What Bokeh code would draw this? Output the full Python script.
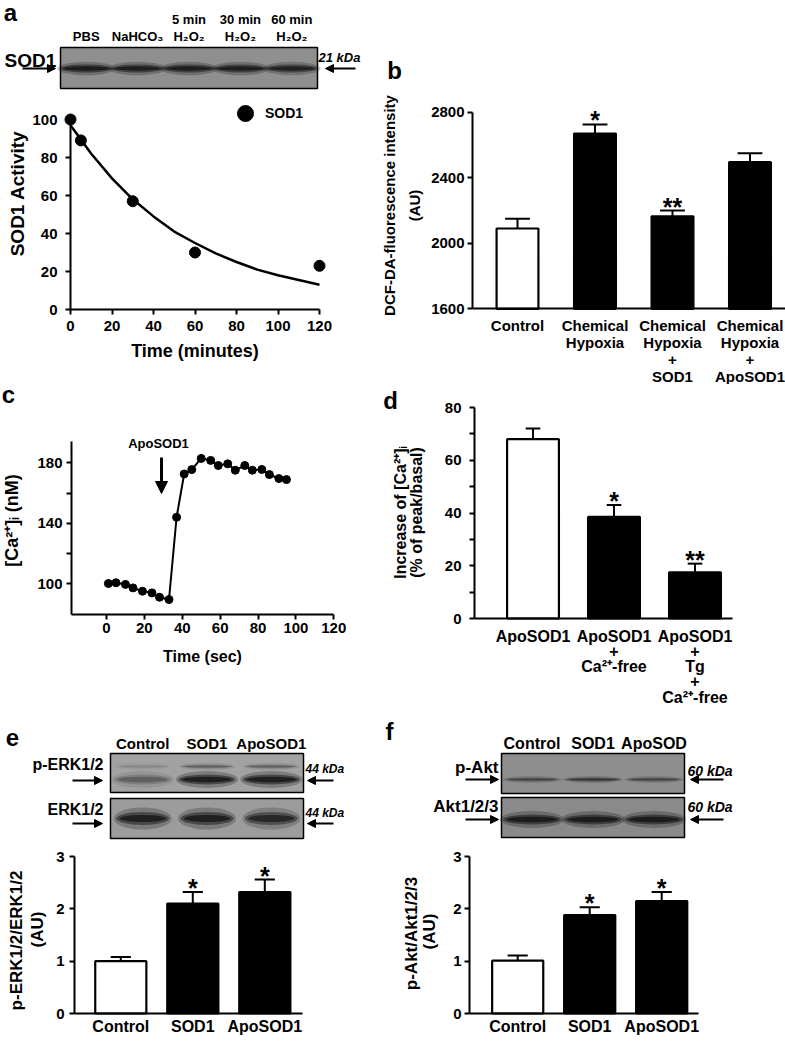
import numpy as np
from bokeh.plotting import figure
from bokeh.layouts import row, column
from bokeh.models import (Range1d, FixedTicker, Label, Arrow, NormalHead,
                          Legend, LegendItem)
from bokeh.core.properties import value
from bokeh.embed import file_html
from bokeh.resources import INLINE

FONT = "Liberation Sans"

# ---------------- data ----------------
# (a) blot lanes + SOD1 activity vs time
a_lanes_top = ["", "", "5 min", "30 min", "60 min"]
a_lanes_bottom = ["PBS", "NaHCO₃", "H₂O₂", "H₂O₂", "H₂O₂"]
a_band = [1.0, 0.95, 0.95, 0.95, 0.9]
a_time = [0, 5, 30, 60, 120]
a_activity = [100, 89, 57, 30, 23]
a_fit_time = [0, 10, 20, 30, 40, 50, 60, 70, 80, 90, 100, 110, 120]
a_fit_activity = [97, 82, 69, 58, 49, 41, 35, 29.5, 25, 21, 18, 15.5, 13]
a_xticks = [0, 20, 40, 60, 80, 100, 120]
a_yticks = [0, 20, 40, 60, 80, 100]

# (b) DCF-DA fluorescence
b_labels = ["Control", "Chemical\nHypoxia", "Chemical\nHypoxia\n+\nSOD1",
            "Chemical\nHypoxia\n+\nApoSOD1"]
b_mean = [2090, 2670, 2165, 2495]
b_sem = [60, 55, 35, 55]
b_sig = ["", "*", "**", ""]
b_yticks = [1600, 2000, 2400, 2800]

# (c) [Ca2+]i trace
c_time = [1, 5, 10, 14, 19, 24, 28, 33, 37, 41, 45, 50, 55, 59, 64, 68, 73,
          77, 82, 86, 91, 95]
c_ca = [100.2, 100.7, 99.6, 97.3, 95.1, 94.0, 91.1, 89.6, 144.0, 172.6, 175.5,
        182.9, 181.6, 178.2, 179.3, 175.1, 178.2, 175.1, 175.6, 172.2, 169.6,
        168.9]
c_xticks = [0, 20, 40, 60, 80, 100, 120]
c_yticks = [100, 140, 180]
c_yminor = [120, 160]

# (d) increase of [Ca2+]i
d_labels = ["ApoSOD1", "ApoSOD1\n+\nCa²⁺-free", "ApoSOD1\n+\nTg\n+\nCa²⁺-free"]
d_mean = [68, 38.5, 17.5]
d_sem = [4, 4.5, 3.3]
d_sig = ["", "*", "**"]
d_yticks = [0, 20, 40, 60, 80]
d_yminor = [10, 30, 50, 70]

# (e) p-ERK1/2
e_lanes = ["Control", "SOD1", "ApoSOD1"]
e_perk_band = [0.35, 1.0, 1.0]
e_erk_band = [0.95, 0.95, 0.85]
e_mean = [1.0, 2.1, 2.32]
e_sem = [0.08, 0.22, 0.24]
e_sig = ["", "*", "*"]

# (f) p-Akt
f_lanes = ["Control", "SOD1", "ApoSOD"]
f_labels = ["Control", "SOD1", "ApoSOD1"]
f_pakt_band = [0.5, 0.65, 0.5]
f_akt_band = [1.0, 1.0, 1.0]
f_mean = [1.01, 1.88, 2.15]
f_sem = [0.1, 0.15, 0.17]
f_sig = ["", "*", "*"]
ef_yticks = [0, 1, 2, 3]

SPLIT = 378  # x where the right-hand column of panels begins


# ---------------- helpers ----------------
class Panel:
    """A figure whose frame fills its box; xmap/ymap tie data values to pixels."""

    def __init__(self, box, xmap, ymap, axes=True):
        self.x0, self.y0, self.x1, self.y1 = box
        self.xmap, self.ymap = xmap, ymap
        kw = {}
        if not axes:
            kw = dict(x_axis_type=None, y_axis_type=None)
        self.p = figure(width=int(self.x1 - self.x0), height=int(self.y1 - self.y0),
                        x_range=Range1d(self.X(self.x0), self.X(self.x1)),
                        y_range=Range1d(self.Y(self.y1), self.Y(self.y0)),
                        output_backend="svg", toolbar_location=None, tools="",
                        min_border=0, min_border_left=0, min_border_right=0,
                        min_border_top=0, min_border_bottom=0,
                        outline_line_color=None, background_fill_color="white",
                        border_fill_color="white", **kw)
        if axes:
            self.p.xgrid.visible = False
            self.p.ygrid.visible = False

    @staticmethod
    def _lin(m, v):
        d1, p1, d2, p2 = m
        return d1 + (v - p1) * (d2 - d1) / (p2 - p1)

    def X(self, px):
        return self._lin(self.xmap, px)

    def Y(self, py):
        return self._lin(self.ymap, py)

    def label(self, px, py, text, size, angle=0, align="center", style="bold",
              baseline="middle"):
        self.p.add_layout(Label(x=self.X(px), y=self.Y(py), text=text,
                                angle=angle, angle_units="deg",
                                text_align=align, text_baseline=baseline,
                                text_font=FONT, text_font_style=style,
                                text_font_size=f"{size}px", text_color="black"))

    def arrow(self, px0, py0, px1, py1, lw=2, head=8):
        self.p.add_layout(Arrow(end=NormalHead(size=head, fill_color="black",
                                               line_color="black", line_width=1),
                                x_start=self.X(px0), y_start=self.Y(py0),
                                x_end=self.X(px1), y_end=self.Y(py1),
                                line_width=lw, line_color="black"))


def style_axis(ax, size, tick_out=5, standoff=3):
    ax.axis_line_width = 2
    ax.axis_line_color = "black"
    ax.major_tick_line_width = 2
    ax.minor_tick_line_width = 2
    ax.major_tick_in = 0
    ax.major_tick_out = tick_out
    ax.minor_tick_in = 0
    ax.minor_tick_out = tick_out
    ax.major_label_standoff = standoff
    ax.major_label_text_font = FONT
    ax.major_label_text_font_style = "bold"
    ax.major_label_text_font_size = f"{size}px"
    ax.major_label_text_color = "black"
    ax.axis_label_text_font = FONT
    ax.axis_label_text_font_style = "bold"
    ax.axis_label_text_color = "black"


def bar_panel(P, labels, mean, sem, sig, base, width, cap, xpx_axis, xpx_end,
              yticks, yminor, tick_standoff, cat_size, cat_lh, cat_standoff, ytop):
    p = P.p
    idx = list(range(len(mean)))
    colors = ["white" if i == 0 else "black" for i in idx]
    tops = [m + s for m, s in zip(mean, sem)]
    p.segment(x0=idx, y0=mean, x1=idx, y1=tops, line_width=2, line_color="black")
    p.segment(x0=[i - cap for i in idx], y0=tops, x1=[i + cap for i in idx],
              y1=tops, line_width=2, line_color="black")
    p.vbar(x=idx, top=mean, bottom=base, width=width, fill_color=colors,
           line_color="black", line_width=2.2)
    p.text(x=idx, y=tops, text=sig, text_align="center", text_baseline="middle",
           y_offset=-4, text_font=value(FONT), text_font_style="bold",
           text_font_size="25px", text_color="black")
    ya = p.yaxis[0]
    xa = p.xaxis[0]
    ya.fixed_location = P.X(xpx_axis)
    ya.bounds = (base, ytop)
    ya.ticker = FixedTicker(ticks=yticks, minor_ticks=yminor)
    style_axis(ya, 15, 5, tick_standoff)
    xa.fixed_location = base
    xa.bounds = (P.X(xpx_axis), P.X(xpx_end))
    xa.ticker = FixedTicker(ticks=idx, minor_ticks=[])
    xa.major_label_overrides = {i: lab for i, lab in zip(idx, labels)}
    style_axis(xa, cat_size, 0, cat_standoff)
    xa.major_label_text_line_height = cat_lh


def bands(P, xs, ypx, strengths, w=0.9, h=8, color="#111111"):
    layers = [(1.1, 1.7, 0.25), (1.0, 1.0, 0.5), (0.88, 0.55, 0.75)]
    for sw, sh, a in layers:
        P.p.ellipse(x=xs, y=[P.Y(ypx)] * len(xs), width=w * sw,
                    height=abs(P.Y(ypx + h * sh) - P.Y(ypx)),
                    fill_color=color, fill_alpha=[min(1.0, s * a) for s in strengths],
                    line_color=None)


def blot_box(P, n, ypx0, ypx1, fill):
    P.p.quad(left=[-0.5], right=[n - 0.5], top=[P.Y(ypx0)], bottom=[P.Y(ypx1)],
             fill_color=fill, line_color="black", line_width=1.5)


# ---------------- (a) blot ----------------
AB = Panel((0, 0, SPLIT, 95), (-0.5, 60, 4.5, 317), (0, 0, 1, 1), axes=False)
n_a = len(a_lanes_bottom)
AB.label(10, 12, "a", 24)
AB.p.text(x=list(range(n_a)), y=[AB.Y(19)] * n_a, text=a_lanes_top,
          text_align="center", text_baseline="middle", text_font=value(FONT),
          text_font_style="bold", text_font_size="13px", text_color="black")
AB.p.text(x=list(range(n_a)), y=[AB.Y(36)] * n_a, text=a_lanes_bottom,
          text_align="center", text_baseline="middle", text_font=value(FONT),
          text_font_style="bold", text_font_size="13px", text_color="black")
blot_box(AB, n_a, 47, 88, "#8f8f8f")
bands(AB, list(range(n_a)), 68, a_band, w=1.02, h=8)
AB.label(4, 60, "SOD1", 19, align="left")
AB.arrow(22, 68, 55, 68)
AB.label(318, 57, "21 kDa", 13, align="left", style="bold italic")
AB.arrow(355, 68, 325, 68)

# ---------------- (a) plot ----------------
AP = Panel((0, 95, SPLIT, 370), (0, 70, 120, 319), (0, 309, 100, 119))
p = AP.p
p.line(a_fit_time, a_fit_activity, line_width=2.5, line_color="black")
ra = p.scatter(a_time, a_activity, size=11, color="black")
xa, ya = p.xaxis[0], p.yaxis[0]
xa.fixed_location = 0
xa.bounds = (0, 120)
xa.ticker = FixedTicker(ticks=a_xticks)
style_axis(xa, 15, 5, 6)
xa.axis_label = "Time (minutes)"
xa.axis_label_text_font_size = "18px"
xa.axis_label_standoff = 7
ya.fixed_location = 0
ya.bounds = (0, 100)
ya.ticker = FixedTicker(ticks=a_yticks)
style_axis(ya, 15, 5, 8)
AP.label(17, 193, "SOD1 Activity", 19, angle=90)
leg = Legend(items=[LegendItem(label="SOD1", renderers=[ra])], location=(225, 237),
             glyph_width=40, glyph_height=40, label_standoff=-10, padding=0,
             margin=0, spacing=0, background_fill_alpha=0, border_line_color=None,
             label_text_font=FONT, label_text_font_style="bold",
             label_text_font_size="14px", label_text_color="black")
p.add_layout(leg)

# ---------------- (b) ----------------
BP = Panel((SPLIT, 0, 785, 384), (0, 517, 1, 594.5), (1600, 308.3, 2800, 111.7))
bar_panel(BP, b_labels, b_mean, b_sem, b_sig, 1600, 0.54, 0.16, 472, 785,
          b_yticks, [], 3, 15, 1.0, 8, 2800)
BP.label(394, 70, "b", 24)
BP.label(389, 205, "DCF-DA-fluorescence intensity", 15, angle=90)
BP.label(414, 205, "(AU)", 15, angle=90)

# ---------------- (c) ----------------
CP = Panel((0, 370, SPLIT, 690), (0, 106, 120, 333.3), (100, 583.3, 180, 462.3))
p = CP.p
p.line(c_time, c_ca, line_width=2, line_color="black")
p.scatter(c_time, c_ca, size=8, color="black")
xa, ya = p.xaxis[0], p.yaxis[0]
xa.fixed_location = 80
xa.bounds = (CP.X(71), 120)
xa.ticker = FixedTicker(ticks=c_xticks)
style_axis(xa, 15, 5, 4)
xa.axis_label = "Time (sec)"
xa.axis_label_text_font_size = "16px"
xa.axis_label_standoff = 11
ya.fixed_location = CP.X(71)
ya.bounds = (80, CP.Y(441))
ya.ticker = FixedTicker(ticks=c_yticks, minor_ticks=c_yminor)
style_axis(ya, 15, 5, 4)
CP.label(8, 394, "c", 24)
CP.label(11, 520, "[Ca²⁺]ᵢ (nM)", 18, angle=90)
CP.label(158, 443, "ApoSOD1", 13)
CP.arrow(161, 457, 161, 493, lw=3, head=12)

# ---------------- (d) ----------------
DP = Panel((SPLIT, 384, 785, 712), (0, 532.5, 1, 613.5), (0, 618, 80, 407))
bar_panel(DP, d_labels, d_mean, d_sem, d_sig, 0, 0.64, 0.09, 474, 732,
          d_yticks, d_yminor, 8, 16, 0.9, 9, 80)
DP.label(390, 400, "d", 24)
DP.label(400, 512, "Increase of [Ca²⁺]ᵢ", 16, angle=90)
DP.label(416, 512, "(% of peak/basal)", 16, angle=90)

# ---------------- (e) blot ----------------
EB = Panel((0, 690, SPLIT, 845), (-0.5, 110, 2.5, 303), (0, 0, 1, 1), axes=False)
n_e = len(e_lanes)
EB.label(12, 737, "e", 24)
EB.p.text(x=list(range(n_e)), y=[EB.Y(743)] * n_e, text=e_lanes,
          text_align="center", text_baseline="middle", text_font=value(FONT),
          text_font_style="bold", text_font_size="15px", text_color="black")
blot_box(EB, n_e, 753, 792, "#a2a2a2")
blot_box(EB, n_e, 798, 838, "#9c9c9c")
bands(EB, list(range(n_e)), 779, e_perk_band, w=0.88, h=10)
bands(EB, list(range(n_e)), 766, [s * 0.35 for s in e_perk_band], w=0.8, h=4)
bands(EB, list(range(n_e)), 818, e_erk_band, w=0.82, h=13)
EB.label(103, 764, "p-ERK1/2", 16, align="right")
EB.label(103, 809, "ERK1/2", 16, align="right")
EB.arrow(72, 780, 102, 780)
EB.arrow(72, 823, 102, 823)
EB.label(305, 768, "44 kDa", 12, align="left", style="bold italic")
EB.label(305, 812, "44 kDa", 12, align="left", style="bold italic")
EB.arrow(333, 780, 307, 780)
EB.arrow(333, 823, 307, 823)

# ---------------- (e) plot ----------------
EP = Panel((0, 845, SPLIT, 1041), (0, 120.3, 1, 192.3), (0, 1013, 3, 856))
bar_panel(EP, e_lanes, e_mean, e_sem, e_sig, 0, 0.71, 0.14, 74, 302,
          ef_yticks, [], 5, 16, 1.2, 4, 3)
EP.label(16, 940, "p-ERK1/2/ERK1/2", 17, angle=90)
EP.label(37, 929, "(AU)", 17, angle=90)

# ---------------- (f) blot ----------------
FB = Panel((SPLIT, 712, 785, 845), (-0.5, 501, 2.5, 684), (0, 0, 1, 1), axes=False)
n_f = len(f_lanes)
FB.label(389, 731, "f", 24)
FB.p.text(x=list(range(n_f)), y=[FB.Y(743)] * n_f, text=f_lanes,
          text_align="center", text_baseline="middle", text_font=value(FONT),
          text_font_style="bold", text_font_size="16px", text_color="black")
blot_box(FB, n_f, 753, 793, "#8e8e8e")
blot_box(FB, n_f, 797, 837, "#8a8a8a")
bands(FB, list(range(n_f)), 779, f_pakt_band, w=0.9, h=4)
bands(FB, list(range(n_f)), 819, f_akt_band, w=0.95, h=10)
FB.label(498, 767, "p-Akt", 17, align="right")
FB.label(498, 806, "Akt1/2/3", 17, align="right")
FB.arrow(465, 779, 498, 779)
FB.arrow(465, 819, 498, 819)
FB.label(687, 770, "60 kDa", 14, align="left", style="bold italic")
FB.label(687, 806, "60 kDa", 14, align="left", style="bold italic")
FB.arrow(723, 779, 690, 779)
FB.arrow(723, 819, 690, 819)

# ---------------- (f) plot ----------------
FP = Panel((SPLIT, 845, 785, 1041), (0, 517.2, 1, 589.2), (0, 1013, 3, 856))
bar_panel(FP, f_labels, f_mean, f_sem, f_sig, 0, 0.71, 0.14, 469, 698,
          ef_yticks, [], 3, 16, 1.2, 4, 3)
FP.label(411, 933, "p-Akt/Akt1/2/3", 17, angle=90)
FP.label(429, 931, "(AU)", 17, angle=90)

layout = row(column(AB.p, AP.p, CP.p, EB.p, EP.p),
             column(BP.p, DP.p, FB.p, FP.p))

open("out.html", "w").write(file_html(layout, INLINE))
